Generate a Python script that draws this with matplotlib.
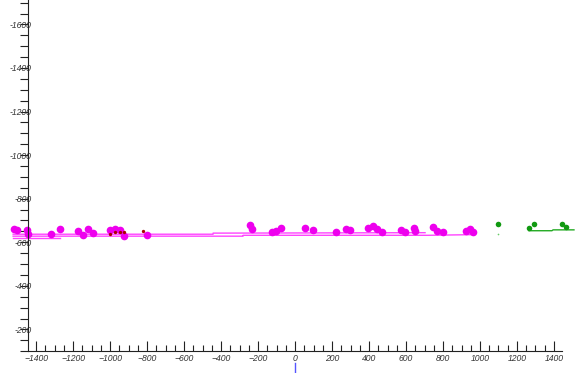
import matplotlib
matplotlib.use("Agg")
import matplotlib.pyplot as plt
import numpy as np
from matplotlib.ticker import FixedLocator, FuncFormatter

# magenta track points
mag_x = [-1519, -1503, -1449, -1443, -1319, -1270, -1173, -1146, -1119, -1092,
         -1000, -973, -946, -924, -800, -243, -232, -124, -103, -76,
         54, 97, 222, 276, 297, 395, 422, 443, 470, 573,
         595, 643, 649, 746, 768, 800, 924, 946, 962]
mag_y = [-662, -657, -657, -639, -639, -662, -653, -634, -662, -644,
         -657, -662, -657, -630, -634, -680, -662, -648, -653, -667,
         -667, -657, -648, -662, -657, -667, -676, -662, -648, -657,
         -648, -667, -653, -671, -653, -648, -653, -662, -648]

# small dark red points
red_x = [-1000, -973, -946, -924, -822]
red_y = [-639, -648, -648, -648, -653]

# green points
grn_x = [1097, 1265, 1292, 1443, 1465]
grn_y = [-685, -667, -685, -685, -671]
grn_tiny_x = [1097]
grn_tiny_y = [-639]

# magenta lines
line1_x = [-1524, -443, -443, 703]
line1_y = [-637, -637, -642, -644]
line2_x = [-1524, -281, -281, 719, 957]
line2_y = [-628, -628, -632, -632, -635]
line3_x = [-1524, -1270]
line3_y = [-620, -620]

# green line
gline_x = [1265, 1389, 1395, 1508]
gline_y = [-653, -653, -657, -657]

# blue marker below the origin
blue_x = [0, 0]
blue_y = [-47, -1]

fig = plt.figure(figsize=(5.76, 3.73), dpi=100)
ax = fig.add_axes([0, 0, 1, 1])

ax.plot(line1_x, line1_y, color="#ff44ff", lw=1.0)
ax.plot(line2_x, line2_y, color="#ff44ff", lw=1.0)
ax.plot(line3_x, line3_y, color="#ff44ff", lw=1.0)
ax.plot(gline_x, gline_y, color="#22aa22", lw=1.0)
ax.plot(mag_x, mag_y, "o", color="#ee00ee", ms=5.5, mec="none")
ax.plot(red_x, red_y, "o", color="#aa0000", ms=2.4, mec="none")
ax.plot(grn_x, grn_y, "o", color="#119911", ms=4, mec="none")
ax.plot(grn_tiny_x, grn_tiny_y, "o", color="#66cc66", ms=1.2, mec="none")
ax.plot(blue_x, blue_y, color="#5555ff", lw=1.0, clip_on=False)

ax.set_xlim(-1595, 1519)
ax.set_ylim(0, -1712)

for s in ["top", "right"]:
    ax.spines[s].set_visible(False)
ax.spines["left"].set_position(("data", -1443))
ax.spines["left"].set_bounds(-1712, -100)
ax.spines["bottom"].set_position(("data", -100))
ax.spines["bottom"].set_bounds(-1443, 1443)
for s in ["left", "bottom"]:
    ax.spines[s].set_linewidth(0.8)
    ax.spines[s].set_color("#222222")

xmaj = list(range(-1400, 1401, 200))
xmin = [v for v in range(-1400, 1401, 50) if v % 200 != 0]
ymaj = list(range(-1600, -199, 200))
ymin = [v for v in range(-1700, -99, 50) if v % 200 != 0]

ax.xaxis.set_major_locator(FixedLocator(xmaj))
ax.xaxis.set_minor_locator(FixedLocator(xmin))
ax.yaxis.set_major_locator(FixedLocator(ymaj))
ax.yaxis.set_minor_locator(FixedLocator(ymin))

ax.xaxis.set_major_formatter(FuncFormatter(lambda v, p: f"{int(v)}".replace("-", "\u2212")))
ax.yaxis.set_major_formatter(FuncFormatter(lambda v, p: f"{int(v)}"))

ax.tick_params(axis="x", which="major", direction="in", length=7.5, width=0.8,
               pad=2, colors="#222222", labelsize=6.2)
ax.tick_params(axis="x", which="minor", direction="in", length=4, width=0.8, colors="#222222")
ax.tick_params(axis="y", which="both", direction="out", length=6, width=0.8,
               colors="#222222", labelsize=6.2)
ax.tick_params(axis="y", which="major", pad=-8.5)

for lab in ax.get_xticklabels() + ax.get_yticklabels():
    lab.set_family("Liberation Sans")
    lab.set_style("italic")
    lab.set_color("#333333")

fig.savefig("out.png", dpi=100)
